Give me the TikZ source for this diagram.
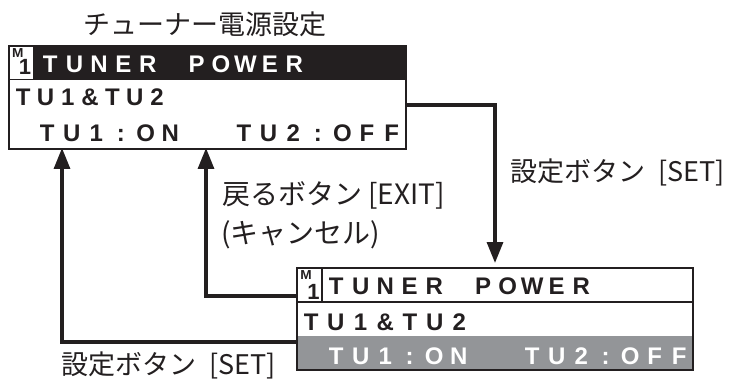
\documentclass[tikz,border=0pt]{standalone}
\usepackage{fontspec}
\setmainfont{Liberation Sans}
\newfontfamily\lcdfont{Liberation Sans}
\newfontfamily\jpfont{Noto Sans CJK JP}
\usetikzlibrary{arrows.meta}
\definecolor{lcdblack}{HTML}{231F20}
\definecolor{lcdgray}{HTML}{939598}
\newlength\lcdpitch
\def\lcdloop#1{\ifx\relax#1\else\lcdcell#1\expandafter\lcdloop\fi}
\newcommand\lcdcell[1]{\ifx*#1\hbox to\lcdpitch{}\else\hbox to\lcdpitch{\hss#1\hss}\fi}
\newcommand\lcdrow[2]{\setlength\lcdpitch{#1pt}\lcdloop#2\relax}
\tikzset{
  lcd/.style={inner sep=0pt, anchor=base west, font=\lcdfont\bfseries\fontsize{24}{24}\selectfont},
  iconm/.style={inner sep=0pt, font=\lcdfont\bfseries\fontsize{13}{13}\selectfont, text=lcdblack, xscale=1.05},
  iconone/.style={inner sep=0pt, anchor=base, font=\lcdfont\bfseries\fontsize{22}{22}\selectfont, text=lcdblack},
  jp/.style={inner sep=0pt, text=lcdblack, font=\jpfont\fontsize{27}{30}\selectfont},
  jpbig/.style={jp, font=\jpfont\fontsize{28}{32}\selectfont},
  arr/.style={line width=3.2pt, draw=lcdblack, -{Triangle[length=21pt,width=16pt]}},
  panel/.style={draw=lcdblack, line width=2pt, inner sep=0pt, anchor=north west}
}
\begin{document}
\begin{tikzpicture}[x=1pt,y=-1pt]
\useasboundingbox (0,0) rectangle (731,385);
% title
\node[jp, font=\jpfont\fontsize{27}{30}\selectfont] (title) at (205,24) {チューナー電源設定};
% top panel
\fill[lcdblack] (8,45) rectangle (405,80);
\fill[white] (9,46) rectangle (33,79);
\node[panel, minimum width=397pt, minimum height=103pt] (top) at (8,45) {};
\node[iconm] (tm) at (17.8,53.5) {M};
\node[iconone] (t1) at (25,75) {1};
\node[lcd, text=white] (th) at (37.8,73) {\lcdrow{24.4}{TUNER*POWER}};
\node[lcd, text=lcdblack] (tr2) at (11.85,106) {\lcdrow{22.3}{TU1\&TU2}};
\node[lcd, text=lcdblack] (tr3) at (34.7,142) {\lcdrow{24.6}{TU1:ON**TU2:OFF}};
% bottom panel
\fill[lcdgray] (296,336) rectangle (692,369);
\node[panel, minimum width=396pt, minimum height=102pt] (bot) at (296,267) {};
\draw[lcdblack, line width=2pt] (296,302) -- (692,302);
\draw[lcdblack, line width=2pt] (322,267) -- (322,302);
\node[iconm] (bm) at (306,275.5) {M};
\node[iconone] (b1) at (313.5,299) {1};
\node[lcd, text=lcdblack] (bh) at (323.75,294) {\lcdrow{24.5}{TUNER*POWER}};
\node[lcd, text=lcdblack] (br2) at (298.65,330) {\lcdrow{24.7}{TU1\&TU2}};
\node[lcd, text=white] (br3) at (323.75,364) {\lcdrow{24.5}{TU1:ON**TU2:OFF}};
% connectors
\coordinate (c2) at (206,148);
\coordinate (c3) at (62,148);
\draw[arr, shorten >=4pt] ([yshift=-7.5pt]top.east) -| (bot.north);
\draw[arr] ([yshift=23pt]bot.west) -| (c2);
\draw[arr] ([yshift=-23pt]bot.west) -| (c3);
% labels
\node[jp, anchor=west] (set1) at (510,172) {設定ボタン\hspace{0.5em}[SET]};
\node[jpbig, anchor=west] (exit) at (222,195) {戻るボタン [EXIT]};
\node[jpbig, anchor=west] (cancel) at (221,235) {(キャンセル)};
\node[jp, anchor=west] (set2) at (61,365) {設定ボタン\hspace{0.5em}[SET]};
\end{tikzpicture}
\end{document}
